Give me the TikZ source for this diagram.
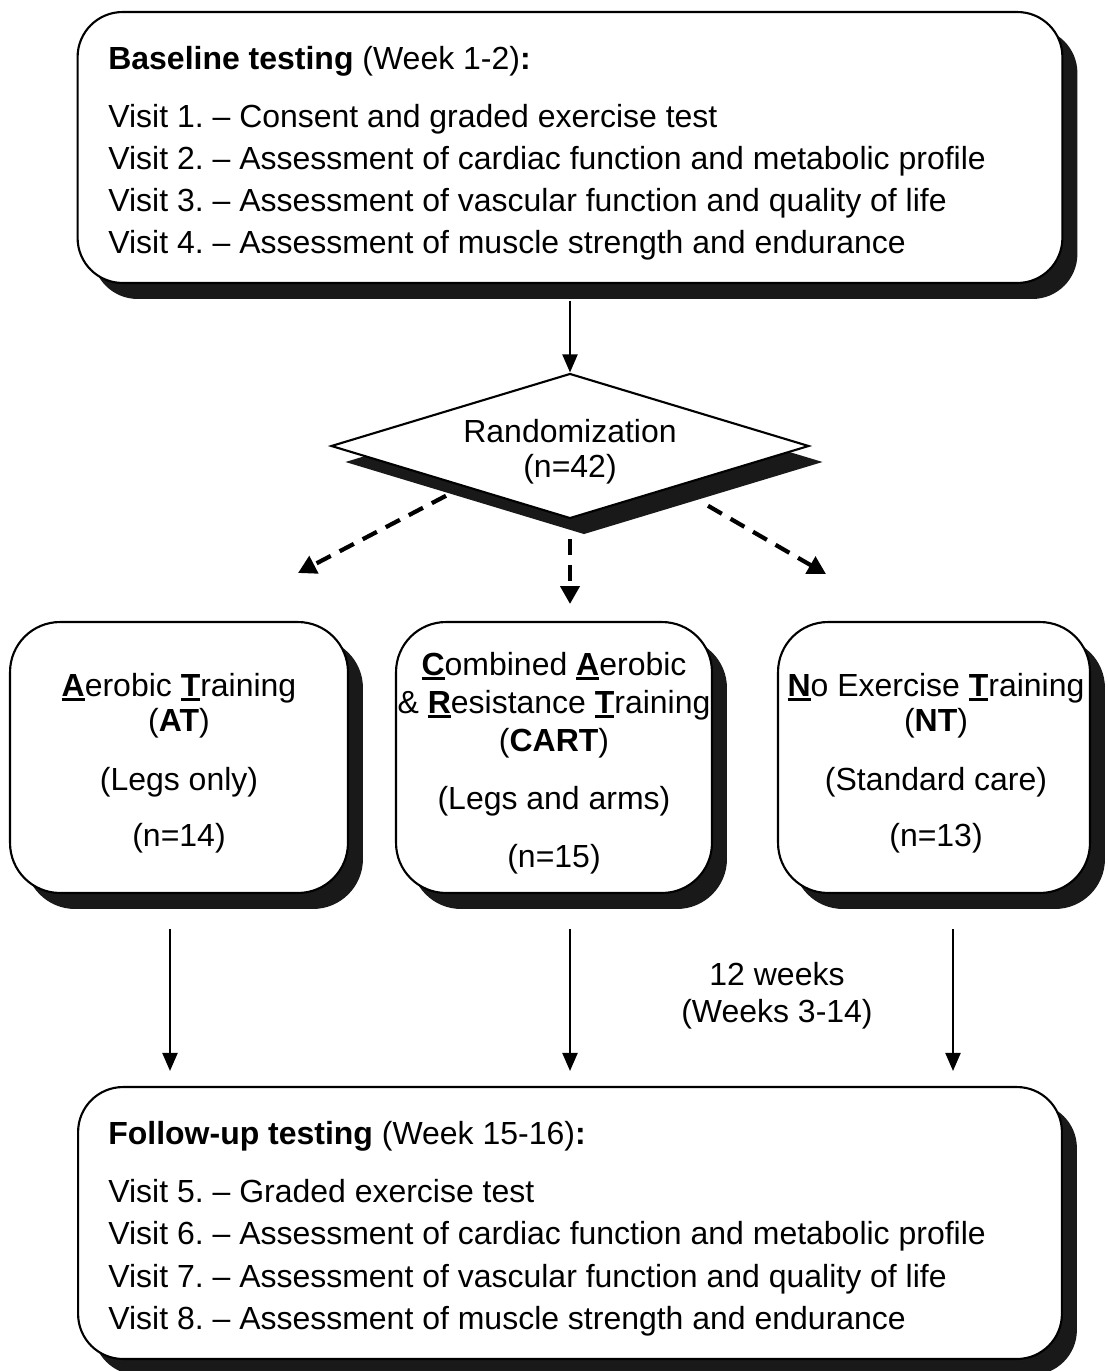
\documentclass[tikz,border=0pt]{standalone}
\usepackage{fontspec}
\setmainfont{Liberation Sans}
\usetikzlibrary{shapes.geometric,shadows,arrows.meta}
\frenchspacing

% bold first letter with a thick underline
\newcommand{\ubold}[1]{\setbox0\hbox{\textbf{#1}}\rlap{\rule[-2.6pt]{\wd0}{1.5pt}}\box0}

\tikzset{
  box/.style={draw, line width=1.2pt, fill=white, rounded corners=0.9cm,
    drop shadow={shadow xshift=0.3cm, shadow yshift=-0.32cm, opacity=1, fill=black!90}},
  diam/.style={diamond, draw, line width=1.2pt, fill=white, inner sep=0pt, aspect=3.3,
    drop shadow={shadow xshift=0.28cm, shadow yshift=-0.32cm, opacity=1, fill=black!90}},
  txt/.style={font=\fontsize{18.2}{22}\selectfont, inner sep=0pt, anchor=base},
  ltxt/.style={txt, anchor=base west},
  arr/.style={line width=1.2pt, -{Triangle[length=0.36cm, width=0.3cm]}},
  darr/.style={line width=2.4pt, dash pattern=on 0.32cm off 0.2cm, -{Triangle[length=0.36cm, width=0.38cm]}}
}

\begin{document}
\begin{tikzpicture}[x=0.02cm, y=-0.02cm]
\useasboundingbox (0,0) rectangle (1107,1371);

% baseline testing
\node[box, minimum width=19.7cm, minimum height=5.42cm] (base) at (570,147.5) {};
\node[ltxt] (bt) at (108,70) {\textbf{Baseline testing} (Week 1-2)\textbf{:}};
\node[ltxt] (v1) at (108,128) {Visit 1. – Consent and graded exercise test};
\node[ltxt] (v2) at (108,170) {Visit 2. – Assessment of cardiac function and metabolic profile};
\node[ltxt] (v3) at (108,212) {Visit 3. – Assessment of vascular function and quality of life};
\node[ltxt] (v4) at (108,254) {Visit 4. – Assessment of muscle strength and endurance};

% randomization
\node[diam, minimum width=9.56cm, minimum height=2.9cm] (rand) at (570,446) {};
\node[txt] (r1) at (570,442) {Randomization};
\node[txt] (r2) at (570,477) {(n=42)};

% groups
\node[box, rounded corners=1cm, minimum width=6.76cm, minimum height=5.42cm] (at) at (179,757.5) {};
\node[txt] (at1) at (179,696) {\ubold{A}erobic \ubold{T}raining};
\node[txt] (at2) at (179,731) {(\textbf{AT})};
\node[txt] (at3) at (179,790) {(Legs only)};
\node[txt] (at4) at (179,846) {(n=14)};

\node[box, rounded corners=1cm, minimum width=6.32cm, minimum height=5.42cm] (cart) at (554,757.5) {};
\node[txt] (ca1) at (554,675) {\ubold{C}ombined \ubold{A}erobic};
\node[txt] (ca2) at (554,713) {\& \ubold{R}esistance \ubold{T}raining};
\node[txt] (ca3) at (554,751) {(\textbf{CART})};
\node[txt] (ca4) at (554,809) {(Legs and arms)};
\node[txt] (ca5) at (554,867) {(n=15)};

\node[box, rounded corners=1cm, minimum width=6.24cm, minimum height=5.42cm] (nt) at (934,757.5) {};
\node[txt] (nt1) at (936,696) {\ubold{N}o Exercise \ubold{T}raining};
\node[txt] (nt2) at (936,731) {(\textbf{NT})};
\node[txt] (nt3) at (936,790) {(Standard care)};
\node[txt] (nt4) at (936,846) {(n=13)};

\node[txt] (wk1) at (777,985) {12 weeks};
\node[txt] (wk2) at (777,1022) {(Weeks 3-14)};

% follow-up testing
\node[box, minimum width=19.68cm, minimum height=5.44cm] (fu) at (570,1223) {};
\node[ltxt] (ft) at (108,1144) {\textbf{Follow-up testing} (Week 15-16)\textbf{:}};
\node[ltxt] (v5) at (108,1202) {Visit 5. – Graded exercise test};
\node[ltxt] (v6) at (108,1244) {Visit 6. – Assessment of cardiac function and metabolic profile};
\node[ltxt] (v7) at (108,1287) {Visit 7. – Assessment of vascular function and quality of life};
\node[ltxt] (v8) at (108,1329) {Visit 8. – Assessment of muscle strength and endurance};

% arrows
\coordinate (dl) at (298,573);
\coordinate (dm) at (570,604);
\coordinate (dr) at (826,574);
\draw[arr] ([yshift=-0.34cm]base.south) -- (rand.north);
\draw[darr] ([shift={(-4,13)}]rand.south west) -- (dl);
\draw[darr] ([shift={(0,19)}]rand.south) -- (dm);
\draw[darr] ([shift={(18,23)}]rand.south east) -- (dr);

\coordinate (a1) at ([shift={(-9,35)}]at.south);
\coordinate (a2) at ([shift={(16,35)}]cart.south);
\coordinate (a3) at ([shift={(19,35)}]nt.south);
\draw[arr] (a1) -- ([yshift=0.3cm]a1 |- fu.north);
\draw[arr] (a2) -- ([yshift=0.3cm]a2 |- fu.north);
\draw[arr] (a3) -- ([yshift=0.3cm]a3 |- fu.north);
\end{tikzpicture}
\end{document}
